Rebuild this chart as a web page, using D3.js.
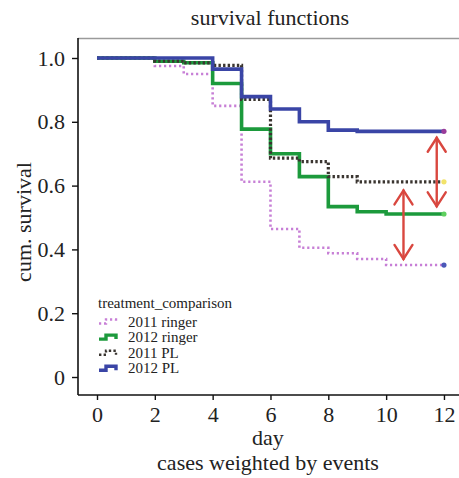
<!DOCTYPE html>
<html lang="en">
<head>
    <meta charset="UTF-8">
    <title>survival functions</title>
    <script src="https://d3js.org/d3.v7.min.js"></script>
    <style>
      body { margin: 0; background: #fff; }
      text { font-family: "Liberation Serif", "DejaVu Serif", serif; fill: #222; }
    </style>
</head>
<body>
    <div id="my_dataviz"></div>
    <script>

    // data
    const days = [0, 1, 2, 3, 4, 5, 6, 7, 8, 9, 10, 11, 12];
    const groups = ["2011 ringer", "2012 ringer", "2011 PL", "2012 PL"];
    const ringer2011 = [1, 1, 0.975, 0.95, 0.85, 0.612, 0.464, 0.405, 0.388, 0.37, 0.351, 0.351, 0.351];
    const ringer2012 = [1, 1, 0.99, 0.985, 0.92, 0.777, 0.70, 0.628, 0.534, 0.518, 0.511, 0.511, 0.511];
    const pl2011 = [1, 1, 0.99, 0.985, 0.977, 0.87, 0.686, 0.675, 0.628, 0.612, 0.612, 0.612, 0.612];
    const pl2012 = [1, 1, 1, 1, 0.965, 0.879, 0.84, 0.80, 0.774, 0.77, 0.77, 0.77, 0.77];
    const xTicks = [0, 2, 4, 6, 8, 10, 12];
    const yTicks = [0, 0.2, 0.4, 0.6, 0.8, 1.0];
    const yTickLabels = ["0", "0.2", "0.4", "0.6", "0.8", "1.0"];
    // red double arrows: day, from, to
    const arrowDays = [11.75, 10.6];
    const arrowFrom = [0.75, 0.585];
    const arrowTo = [0.535, 0.37];

    const W = 459, H = 478;
    const margin = {top: 38, right: 0, bottom: 83, left: 78};

    const svg = d3.select("#my_dataviz")
      .append("svg")
        .attr("width", W)
        .attr("height", H);

    const x = d3.scaleLinear()
      .domain([-0.657, 12.52])
      .range([margin.left, W - margin.right]);

    const y = d3.scaleLinear()
      .domain([-0.0564, 1.0627])
      .range([H - margin.bottom, margin.top]);

    // top frame line
    svg.append("line")
      .attr("x1", margin.left).attr("x2", W)
      .attr("y1", margin.top + 0.5).attr("y2", margin.top + 0.5)
      .attr("stroke", "#9a9a9a").attr("stroke-width", 1.6);

    // axes
    const xAxis = svg.append("g")
      .attr("transform", `translate(0, ${H - margin.bottom})`)
      .call(d3.axisBottom(x).tickValues(xTicks).tickSize(5).tickPadding(6).tickSizeOuter(0));
    const yAxis = svg.append("g")
      .attr("transform", `translate(${margin.left}, 0)`)
      .call(d3.axisLeft(y).tickValues(yTicks).tickSize(6).tickPadding(7).tickSizeOuter(0)
        .tickFormat((d, i) => yTickLabels[i]));
    [xAxis, yAxis].forEach(a => {
      a.select(".domain").attr("stroke", "#111").attr("stroke-width", 1.6);
      a.selectAll(".tick line").attr("stroke", "#111").attr("stroke-width", 1.4);
      a.selectAll("text")
        .attr("font-size", 22)
        .attr("fill", "#222");
    });
    // stretch the domains over the whole frame
    xAxis.select(".domain").attr("d", `M${margin.left},0H${W}`);
    yAxis.select(".domain").attr("d", `M0,${margin.top}V${H - margin.bottom}`);

    // titles
    svg.append("text")
      .attr("x", 270).attr("y", 25)
      .attr("text-anchor", "middle")
      .attr("font-size", 22)
      .text("survival functions");
    svg.append("text")
      .attr("x", 268).attr("y", 445)
      .attr("text-anchor", "middle")
      .attr("font-size", 22)
      .text("day");
    svg.append("text")
      .attr("x", 268).attr("y", 470)
      .attr("text-anchor", "middle")
      .attr("font-size", 22)
      .text("cases weighted by events");
    svg.append("text")
      .attr("transform", "translate(31, 222) rotate(-90)")
      .attr("text-anchor", "middle")
      .attr("font-size", 22)
      .text("cum. survival");

    // curves
    const series = [
      {name: groups[0], values: ringer2011, color: "#c77fd6", width: 2.6, dash: "2.2,2.8", end: "#4a58b8"},
      {name: groups[1], values: ringer2012, color: "#1c9a3c", width: 3.6, dash: null, end: "#5fd05f"},
      {name: groups[2], values: pl2011, color: "#3a3530", width: 3.2, dash: "2.4,2.2", end: "#f2e36a"},
      {name: groups[3], values: pl2012, color: "#3a45a6", width: 3.6, dash: null, end: "#9a3c9a"}
    ];

    const line = d3.line()
      .x((d, i) => x(days[i]))
      .y(d => y(d))
      .curve(d3.curveStepAfter);

    svg.selectAll(".curve")
      .data(series)
      .join("path")
        .attr("class", "curve")
        .attr("fill", "none")
        .attr("stroke", d => d.color)
        .attr("stroke-width", d => d.width)
        .attr("stroke-dasharray", d => d.dash)
        .attr("d", d => line(d.values));

    // end markers
    svg.selectAll(".endpt")
      .data(series)
      .join("circle")
        .attr("class", "endpt")
        .attr("cx", x(days[days.length - 1]))
        .attr("cy", d => y(d.values[d.values.length - 1]))
        .attr("r", 2.6)
        .attr("fill", d => d.end);

    // red double arrows
    const arrowIdx = d3.range(arrowDays.length);
    const arr = svg.selectAll(".arrow")
      .data(arrowIdx)
      .join("g")
        .attr("class", "arrow")
        .attr("stroke", "#d9473f")
        .attr("stroke-width", 2.4)
        .attr("fill", "none")
        .attr("stroke-linecap", "round");
    arr.append("line")
      .attr("x1", i => x(arrowDays[i])).attr("x2", i => x(arrowDays[i]))
      .attr("y1", i => y(arrowFrom[i])).attr("y2", i => y(arrowTo[i]));
    arr.append("path")
      .attr("d", i => {
        const ax = x(arrowDays[i]), y1 = y(arrowFrom[i]), y2 = y(arrowTo[i]);
        return `M${ax - 9},${y1 + 14}L${ax},${y1}L${ax + 9},${y1 + 14}` +
               `M${ax - 9},${y2 - 14}L${ax},${y2}L${ax + 9},${y2 - 14}`;
      });

    // legend
    const legend = svg.append("g");
    legend.append("text")
      .attr("x", 98).attr("y", 308)
      .attr("font-size", 15)
      .text("treatment_comparison");
    const items = legend.selectAll(".item")
      .data(series)
      .join("g")
        .attr("class", "item")
        .attr("transform", (d, i) => `translate(98, ${326.5 + i * 15.6})`);
    items.append("path")
      .attr("d", "M1,-3H8V-7H18V-3")
      .attr("fill", "none")
      .attr("stroke", d => d.color)
      .attr("stroke-width", d => d.dash ? 2.4 : 3.4)
      .attr("stroke-dasharray", d => d.dash);
    items.append("text")
      .attr("x", 30).attr("y", 0)
      .attr("font-size", 15)
      .text(d => d.name);

  </script>
</body>
</html>
